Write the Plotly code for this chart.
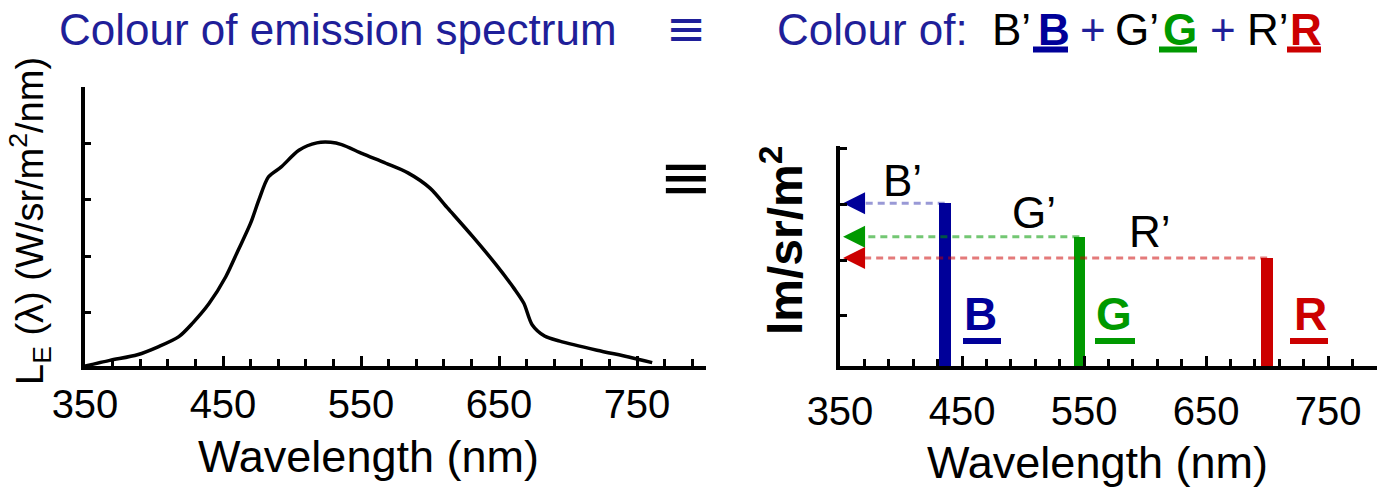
import plotly.graph_objects as go

# ---- data -----------------------------------------------------------------
# Emission spectrum L_E(lambda), arbitrary radiance units
wavelength_nm = [350, 368, 388, 403, 418, 428, 440, 452, 461, 470, 476, 483,
                 492, 505, 518, 528, 536, 551, 568, 584, 600, 613, 631, 648,
                 661, 668, 674, 683, 694, 721, 744, 761]
radiance = [0.06, 0.16, 0.26, 0.40, 0.58, 0.82, 1.17, 1.64, 2.11, 2.59, 3.00,
            3.41, 3.58, 3.88, 4.01, 4.02, 3.98, 3.82, 3.65, 3.48, 3.21, 2.85,
            2.35, 1.85, 1.43, 1.17, 0.79, 0.59, 0.50, 0.34, 0.22, 0.12]

# Matching primaries B, G, R and their luminance amounts B', G', R'
primary_names = ["B", "G", "R"]
primary_nm = [435.8, 546.1, 700.0]
primary_lum = [3.02, 2.42, 2.04]

tick_vals = [350, 450, 550, 650, 750]
tick_text = ["350", "450", "550", "650", "750"]

# ---- styling --------------------------------------------------------------
W, H = 1383, 490
FONT = "Liberation Sans, Arial, sans-serif"
NAVY = "#1f1f99"
primary_colors = ["#000099", "#009900", "#cc0000"]
guide_colors = ["rgba(0,0,153,0.40)", "rgba(0,153,0,0.55)", "rgba(204,0,0,0.52)"]


def fx(px):
    return px / W


def fy(py):
    return 1 - py / H


fig = go.Figure()

# left panel: spectrum curve
fig.add_trace(go.Scatter(
    x=wavelength_nm, y=radiance, mode="lines",
    line=dict(color="black", width=3.5, shape="spline", smoothing=0.8),
    xaxis="x", yaxis="y", hoverinfo="skip"))

# right panel: monochromatic primaries as narrow bars
fig.add_trace(go.Bar(
    x=primary_nm, y=primary_lum, width=9.5,
    marker=dict(color=primary_colors, line=dict(width=0)),
    xaxis="x2", yaxis="y2", hoverinfo="skip"))

# dashed read-off lines from each bar top to the luminance axis
arrow_tip_nm = 352.5
for nm, lum, col, head in zip(primary_nm, primary_lum, guide_colors, primary_colors):
    fig.add_trace(go.Scatter(
        x=[nm, arrow_tip_nm + 8], y=[lum, lum], mode="lines",
        line=dict(color=col, width=3, dash="7px,5px"),
        xaxis="x2", yaxis="y2", hoverinfo="skip"))
    fig.add_trace(go.Scatter(
        x=[arrow_tip_nm], y=[lum], mode="markers",
        marker=dict(symbol="arrow-left", size=22, color=head, line=dict(width=0)),
        xaxis="x2", yaxis="y2", hoverinfo="skip", cliponaxis=False))

axis_common = dict(
    showline=True, linecolor="black", linewidth=3.5,
    showgrid=False, zeroline=False, automargin=False,
    ticks="inside", tickcolor="black", tickwidth=3,
)

xaxis_common = dict(
    axis_common, tickmode="array", tickvals=tick_vals, ticktext=tick_text,
    ticklen=10, tickfont=dict(family=FONT, size=40, color="black"),
    minor=dict(tick0=350, dtick=20, ticks="inside", ticklen=7,
               tickwidth=3, tickcolor="black"),
)

fig.update_layout(
    width=W, height=H,
    margin=dict(l=0, r=0, t=0, b=0, autoexpand=False),
    paper_bgcolor="white", plot_bgcolor="white",
    showlegend=False, bargap=0,
    xaxis=dict(xaxis_common, domain=[fx(85), fx(706)], range=[350, 800],
               anchor="y", ticklabelstandoff=0),
    yaxis=dict(axis_common, domain=[fy(366), fy(87)], range=[0.06, 5.0],
               anchor="x", tickvals=[1, 2, 3, 4, 5], ticklen=6,
               showticklabels=False),
    xaxis2=dict(xaxis_common, domain=[fx(840), fx(1377)], range=[350, 790],
                anchor="y2", ticklabelstandoff=7),
    yaxis2=dict(axis_common, domain=[fy(366), fy(146)], range=[0.1, 4.05],
                anchor="x2", tickvals=[1, 2, 3, 4], ticklen=7,
                showticklabels=False),
)


def text(x, baseline, s, size, color="black", anchor="center", bold=False,
         angle=0, family=FONT):
    """Place a text label by its horizontal anchor and its baseline (pixels)."""
    if bold:
        s = "<b>" + s + "</b>"
    if angle == 0:
        mid = baseline - 0.3465 * size
        fig.add_annotation(x=fx(x), y=fy(mid), xref="paper", yref="paper",
                           text=s, showarrow=False, xanchor=anchor,
                           yanchor="middle",
                           font=dict(family=family, size=size, color=color))
    else:
        fig.add_annotation(x=fx(x), y=fy(baseline), xref="paper", yref="paper",
                           text=s, showarrow=False, xanchor="center",
                           yanchor="middle", textangle=angle,
                           font=dict(family=family, size=size, color=color))


def underline(x0, x1, y, color):
    fig.add_shape(type="line", xref="paper", yref="paper",
                  x0=fx(x0), x1=fx(x1), y0=fy(y), y1=fy(y),
                  line=dict(color=color, width=6))


# headings
text(57, 45, "Colour of emission spectrum", 44, NAVY, anchor="left")
text(686, 45, "≡", 48, NAVY, family="DejaVu Sans")
text(775, 45, "Colour of:", 44, NAVY, anchor="left")
text(990, 45, "B’", 44, "black", anchor="left")
text(1036, 45, "B", 44, primary_colors[0], anchor="left", bold=True)
text(1078, 45, "+", 44, NAVY, anchor="left")
text(1113, 45, "G’", 44, "black", anchor="left")
text(1161, 45, "G", 44, primary_colors[1], anchor="left", bold=True)
text(1208, 45, "+", 44, NAVY, anchor="left")
text(1245, 45, "R’", 44, "black", anchor="left")
text(1288, 45, "R", 44, primary_colors[2], anchor="left", bold=True)
underline(1033, 1068, 49.5, primary_colors[0])
underline(1159, 1197, 49.5, primary_colors[1])
underline(1287, 1321, 49.5, primary_colors[2])

# equivalence sign between the two panels
text(686, 199, "≡", 64, "black", family="DejaVu Sans")

# axis titles
text(369, 472, "Wavelength (nm)", 45)
text(1097, 478, "Wavelength (nm)", 45)
text(30, 221, "L<sub>E</sub> (λ) (W/sr/m<sup>2</sup>/nm)", 38, angle=-90)
text(782, 241, "lm/sr/m<sup>2</sup>", 48, bold=True, angle=-90)

# amount labels B', G', R'
text(903, 196, "B’", 44)
text(1034, 228, "G’", 44)
text(1150, 247, "R’", 44)

# primary labels B, G, R with underlines
for cx, col, name in zip([981, 1114, 1310], primary_colors, primary_names):
    text(cx, 330, name, 46, col, bold=True)
underline(963, 1001, 341, primary_colors[0])
underline(1095, 1135, 341, primary_colors[1])
underline(1290, 1328, 341, primary_colors[2])

fig.write_html("out.html")
